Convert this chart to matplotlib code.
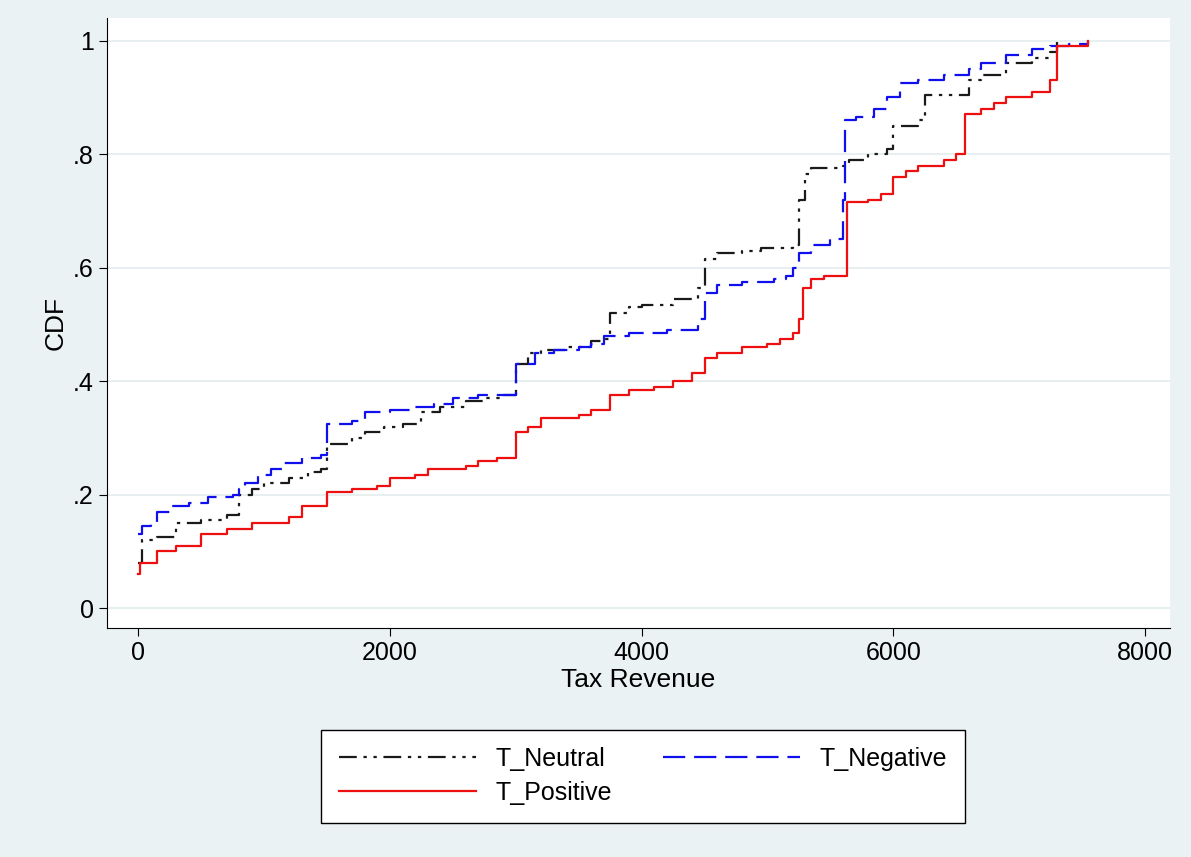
import matplotlib
matplotlib.use("Agg")
import matplotlib.pyplot as plt
plt.rcParams['font.family'] = ['Liberation Sans', 'DejaVu Sans']

neu_x = [0,30,150,300,500,700,800,900,1000,1200,1350,1450,1500,1700,1800,1950,2100,2250,2400,2600,2750,2900,3000,3100,3200,3400,3600,3700,3750,3900,4000,4250,4450,4500,4600,4800,4950,5200,5250,5300,5350,5600,5650,5800,5950,6000,6200,6250,6500,6600,6700,6900,7100,7250,7300]
neu_y = [0.08,0.12,0.125,0.15,0.155,0.165,0.2,0.21,0.22,0.23,0.24,0.245,0.29,0.30,0.31,0.32,0.325,0.345,0.355,0.365,0.37,0.375,0.43,0.45,0.455,0.46,0.47,0.475,0.52,0.53,0.535,0.545,0.565,0.615,0.625,0.63,0.635,0.64,0.72,0.765,0.775,0.78,0.79,0.80,0.81,0.85,0.86,0.905,0.905,0.93,0.94,0.96,0.97,0.98,1.0]
neg_x = [0,30,100,150,250,400,550,750,800,850,950,1050,1150,1300,1450,1500,1700,1800,2000,2200,2350,2500,2700,2900,3000,3150,3300,3500,3600,3700,3900,4200,4450,4500,4600,4800,5050,5150,5200,5250,5350,5500,5600,5620,5700,5850,5950,6050,6200,6400,6600,6700,6900,7100,7250,7400,7550]
neg_y = [0.13,0.145,0.15,0.17,0.18,0.185,0.195,0.2,0.21,0.22,0.235,0.245,0.255,0.265,0.27,0.325,0.33,0.345,0.35,0.355,0.36,0.37,0.375,0.375,0.43,0.45,0.455,0.46,0.465,0.48,0.485,0.49,0.51,0.555,0.57,0.575,0.58,0.585,0.6,0.625,0.64,0.65,0.72,0.86,0.865,0.88,0.90,0.925,0.93,0.94,0.95,0.96,0.975,0.985,0.99,0.995,1.0]
pos_x = [0,10,150,300,500,700,900,1100,1200,1300,1500,1700,1900,2000,2200,2300,2600,2700,2850,3000,3100,3200,3500,3600,3750,3900,4100,4250,4400,4500,4600,4800,5000,5100,5200,5250,5280,5350,5450,5630,5800,5900,6000,6100,6200,6400,6500,6570,6700,6800,6900,7100,7250,7300,7550]
pos_y = [0.06,0.08,0.10,0.11,0.13,0.14,0.15,0.15,0.16,0.18,0.205,0.21,0.215,0.23,0.235,0.245,0.25,0.26,0.265,0.31,0.32,0.335,0.34,0.35,0.375,0.385,0.39,0.40,0.415,0.44,0.45,0.46,0.465,0.475,0.485,0.51,0.565,0.58,0.585,0.715,0.72,0.73,0.76,0.77,0.78,0.79,0.80,0.87,0.88,0.89,0.90,0.91,0.93,0.99,1.0]

bg = "#EAF2F3"
fig = plt.figure(figsize=(11.91, 8.57), dpi=100, facecolor=bg)
ax = fig.add_axes([107/1191, 1-628/857, (1170-107)/1191, (628-18)/857])
ax.set_facecolor("white")
ax.step(neu_x, neu_y, where="post", color="#1a1a1a", lw=1.6, dashes=[8,3,1.5,3,1.5,3], label="T_Neutral")
ax.step(neg_x, neg_y, where="post", color="#1010EE", lw=1.6, dashes=[10,4], label="T_Negative")
ax.step(pos_x, pos_y, where="post", color="#EE1010", lw=1.6, label="T_Positive")
ax.set_xlim(-250, 8200)
ax.set_ylim(-0.035, 1.04)
ax.set_xticks([0,2000,4000,6000,8000])
ax.set_yticks([0,0.2,0.4,0.6,0.8,1])
ax.set_yticklabels(["0",".2",".4",".6",".8","1"])
ax.grid(axis="y", color="#E4ECEE", lw=1.2)
ax.set_axisbelow(True)
for s in ["top","right"]:
    ax.spines[s].set_visible(False)
ax.tick_params(labelsize=18, length=6, colors="black")
ax.set_xlabel("Tax Revenue", fontsize=19, labelpad=2)
ax.set_ylabel("CDF", fontsize=19)
h, l = ax.get_legend_handles_labels()
order = [0, 2, 1]
leg = fig.legend([h[i] for i in order], [l[i] for i in order], ncol=2, loc="center",
                 bbox_to_anchor=(643/1191, 1-776/857), fontsize=18, frameon=True,
                 fancybox=False, edgecolor="black", facecolor="white", framealpha=1,
                 handlelength=5.5, columnspacing=2.0, borderpad=0.7, labelspacing=0.4)
leg.get_frame().set_linewidth(1)
fig.savefig("out.png", facecolor=bg)
